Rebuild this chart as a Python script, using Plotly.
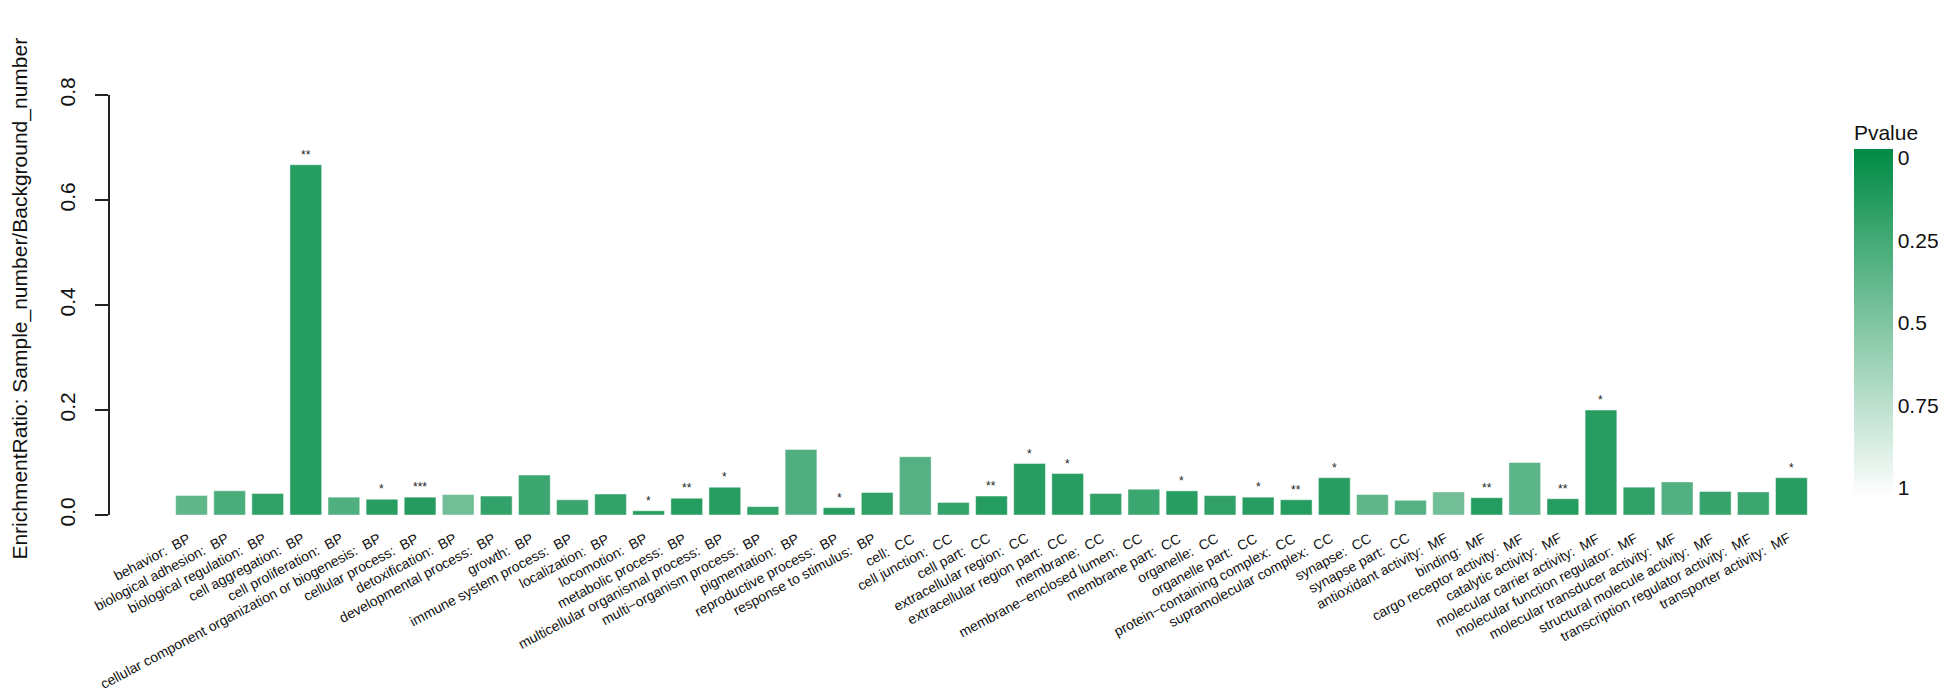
import numpy as np
import plotly.graph_objects as go

categories = [
    "behavior:  BP", "biological adhesion:  BP", "biological regulation:  BP", "cell aggregation:  BP",
    "cell proliferation:  BP", "cellular component organization or biogenesis:  BP", "cellular process:  BP",
    "detoxification:  BP", "developmental process:  BP", "growth:  BP", "immune system process:  BP",
    "localization:  BP", "locomotion:  BP", "metabolic process:  BP", "multicellular organismal process:  BP",
    "multi\u2212organism process:  BP", "pigmentation:  BP", "reproductive process:  BP",
    "response to stimulus:  BP",
    "cell:  CC", "cell junction:  CC", "cell part:  CC", "extracellular region:  CC",
    "extracellular region part:  CC", "membrane:  CC", "membrane\u2212enclosed lumen:  CC", "membrane part:  CC",
    "organelle:  CC", "organelle part:  CC", "protein\u2212containing complex:  CC", "supramolecular complex:  CC",
    "synapse:  CC", "synapse part:  CC",
    "antioxidant activity:  MF", "binding:  MF", "cargo receptor activity:  MF", "catalytic activity:  MF",
    "molecular carrier activity:  MF", "molecular function regulator:  MF", "molecular transducer activity:  MF",
    "structural molecule activity:  MF", "transcription regulator activity:  MF", "transporter activity:  MF",
]

enrichment_ratio = [
    0.037, 0.046, 0.041, 0.667, 0.034, 0.030, 0.034, 0.039, 0.036, 0.076, 0.029, 0.040, 0.008,
    0.032, 0.053, 0.016, 0.125, 0.014, 0.043,
    0.111, 0.024, 0.036, 0.098, 0.079, 0.041, 0.049, 0.046, 0.037, 0.034, 0.029, 0.071, 0.039, 0.028,
    0.044, 0.033, 0.100, 0.031, 0.200, 0.053, 0.063, 0.045, 0.044, 0.071,
]

pvalues = [
    0.27, 0.18, 0.06, 0.005, 0.20, 0.02, 0.0005, 0.36, 0.07, 0.11, 0.10, 0.07, 0.02,
    0.005, 0.02, 0.07, 0.21, 0.02, 0.06,
    0.23, 0.08, 0.005, 0.02, 0.02, 0.06, 0.11, 0.02, 0.055, 0.02, 0.005, 0.02, 0.27, 0.23,
    0.36, 0.005, 0.26, 0.005, 0.02, 0.06, 0.22, 0.09, 0.11, 0.02,
]

stars = [
    "", "", "", "**", "", "*", "***", "", "", "", "", "", "*",
    "**", "*", "", "", "*", "",
    "", "", "**", "*", "*", "", "", "*", "", "*", "**", "*", "", "",
    "", "**", "", "**", "*", "", "", "", "", "*",
]

pv_ticks = [0, 0.25, 0.5, 0.75, 1]
y_ticks = [0, 0.2, 0.4, 0.6, 0.8]

FONT = "Liberation Sans, Arial, Helvetica, sans-serif"

# colour value: reversed so that p = 0 sits at the top of the colour bar
cval = 1 - np.array(pvalues)

fig = go.Figure()
fig.add_trace(go.Bar(
    x=categories,
    y=enrichment_ratio,
    marker=dict(
        color=cval,
        colorscale=[[0, "#ffffff"], [1, "#008B45"]],
        cmin=-0.027, cmax=1.027,
        opacity=0.88,
        line=dict(color="rgba(255,255,255,0.45)", width=1),
        showscale=True,
        colorbar=dict(
            title=dict(text="Pvalue", side="top", font=dict(family=FONT, size=21, color="#111")),
            tickvals=[1 - v for v in pv_ticks],
            ticktext=[f"{v:g}" for v in pv_ticks],
            ticks="",
            tickfont=dict(family=FONT, size=21, color="#111"),
            thickness=39, thicknessmode="pixels",
            len=376, lenmode="pixels",
            x=1.0151, xanchor="left",
            y=0.043, yanchor="bottom",
            outlinewidth=0,
            ypad=0, xpad=0,
        ),
    ),
    hoverinfo="x+y",
))

# significance marks above bars
for cat, v, s in zip(categories, enrichment_ratio, stars):
    if s:
        fig.add_annotation(x=cat, y=v, text=s, showarrow=False, yanchor="bottom",
                           yshift=1, font=dict(family=FONT, size=12, color="#222"))

# slanted category labels (top-right corner of each label just below its bar)
for cat in categories:
    fig.add_annotation(
        x=cat, xref="x", y=(506.7 - 519) / 420, yref="paper",
        text=cat, textangle=-28, showarrow=False,
        xanchor="right", yanchor="top", xshift=4,
        font=dict(family=FONT, size=14, color="#111"),
    )

fig.add_annotation(
    xref="paper", yref="paper", x=(12 - 101.7) / 1718.3, y=(506.7 - 290) / 420,
    text="EnrichmentRatio: Sample_number/Background_number", textangle=-90,
    showarrow=False, xanchor="center", yanchor="middle",
    font=dict(family=FONT, size=21, color="#111"),
)

fig.update_layout(
    width=1946, height=692,
    margin=dict(l=101.7, r=126, t=86.7, b=185.3, autoexpand=False),
    plot_bgcolor="white", paper_bgcolor="white",
    bargap=0.167,
    showlegend=False,
    font=dict(family=FONT, color="#111"),
    xaxis=dict(
        range=[-2.14, 42.96],
        showline=False, showgrid=False, zeroline=False, ticks="",
        showticklabels=False,
        automargin=False,
    ),
    yaxis=dict(
        range=[0, 0.8],
        tickvals=y_ticks,
        ticktext=[f"{v:.1f}" for v in y_ticks],
        showline=True, linecolor="#222", linewidth=1.5,
        ticks="outside", ticklen=13, tickwidth=1.5, tickcolor="#222",
        tickangle=-90,
        tickfont=dict(family=FONT, size=21, color="#111"),
        ticklabelstandoff=12,
        showgrid=False, zeroline=False,
        automargin=False,
    ),
)

fig.write_html("out.html")
